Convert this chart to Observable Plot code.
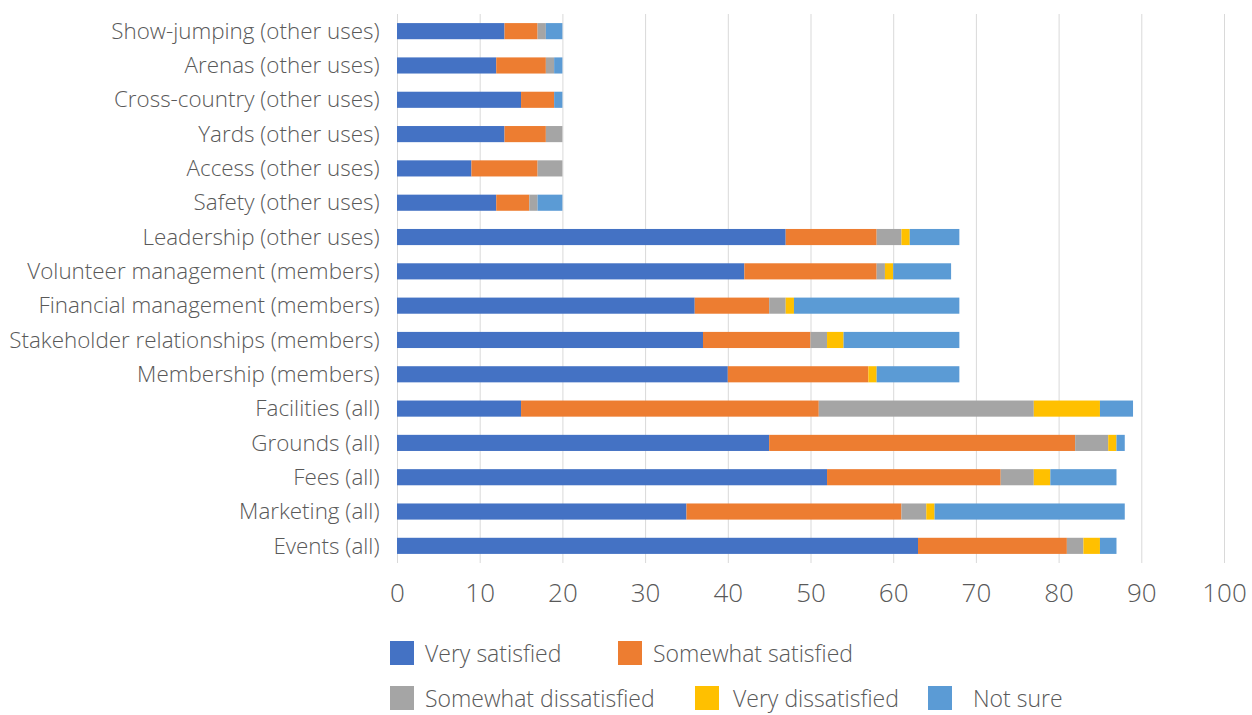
<!DOCTYPE html>
<html>
<head>
<meta charset="utf-8">
<script src="https://cdn.jsdelivr.net/npm/d3@7"></script>
<script src="https://cdn.jsdelivr.net/npm/@observablehq/plot@0.6"></script>
<style>
  html, body { margin: 0; padding: 0; background: #fff; }
  #wrap { position: relative; width: 1252px; height: 715px; font-family: "Open Sans", Lato, sans-serif; font-weight: 300; color: #595959; }
  #legend { position: absolute; left: 0; top: 620px; width: 1252px; height: 95px; }
  .li { position: absolute; display: flex; align-items: center; font-size: 23px; line-height: 24px; height: 24px; white-space: nowrap; }
  .sw { width: 24px; height: 24px; display: inline-block; }
</style>
</head>
<body>
<div id="wrap">
  <div id="chart"></div>
  <div id="legend"></div>
</div>
<script>
const categories = [
  "Show-jumping (other uses)",
  "Arenas (other uses)",
  "Cross-country (other uses)",
  "Yards (other uses)",
  "Access (other uses)",
  "Safety (other uses)",
  "Leadership (other uses)",
  "Volunteer management (members)",
  "Financial management (members)",
  "Stakeholder relationships (members)",
  "Membership (members)",
  "Facilities (all)",
  "Grounds (all)",
  "Fees (all)",
  "Marketing (all)",
  "Events (all)"
];
const seriesNames = ["Very satisfied", "Somewhat satisfied", "Somewhat dissatisfied", "Very dissatisfied", "Not sure"];
const verySatisfied         = [13, 12, 15, 13,  9, 12, 47, 42, 36, 37, 40, 15, 45, 52, 35, 63];
const somewhatSatisfied     = [ 4,  6,  4,  5,  8,  4, 11, 16,  9, 13, 17, 36, 37, 21, 26, 18];
const somewhatDissatisfied  = [ 1,  1,  0,  2,  3,  1,  3,  1,  2,  2,  0, 26,  4,  4,  3,  2];
const veryDissatisfied      = [ 0,  0,  0,  0,  0,  0,  1,  1,  1,  2,  1,  8,  1,  2,  1,  2];
const notSure               = [ 2,  1,  1,  0,  0,  3,  6,  7, 20, 14, 10,  4,  1,  8, 23,  2];
const xTicks = [0, 10, 20, 30, 40, 50, 60, 70, 80, 90, 100];
const colors = ["#4472C4", "#ED7D31", "#A5A5A5", "#FFC000", "#5B9BD5"];

const seriesValues = [verySatisfied, somewhatSatisfied, somewhatDissatisfied, veryDissatisfied, notSure];
const data = [];
categories.forEach((c, i) => {
  seriesNames.forEach((s, j) => {
    data.push({category: c, series: s, value: seriesValues[j][i]});
  });
});

const chart = Plot.plot({
  width: 1252,
  height: 620,
  marginLeft: 397,
  marginRight: 28,
  marginTop: 14,
  marginBottom: 57,
  style: {fontFamily: "'Open Sans', Lato, sans-serif", fontWeight: 300, color: "#595959", background: "#fff"},
  x: {domain: [0, 100], ticks: xTicks, label: null},
  y: {domain: categories, label: null, paddingInner: 0.53, paddingOuter: 0.265, round: false},
  color: {domain: seriesNames, range: colors},
  marks: [
    Plot.gridX(xTicks, {stroke: "#d9d9d9", strokeOpacity: 1, strokeWidth: 1}),
    Plot.axisX({ticks: xTicks, tickSize: 0, tickPadding: 20, fontSize: 26, label: null, fill: "#595959"}),
    Plot.axisY({tickSize: 0, tickPadding: 18, fontSize: 22.4, label: null, fill: "#595959"}),
    Plot.barX(data, Plot.stackX({x: "value", y: "category", fill: "series", order: null}))
  ]
});
document.getElementById("chart").appendChild(chart);

// legend
const legendPos = [
  {x: 390, y: 33}, {x: 618, y: 33},
  {x: 390, y: 78}, {x: 695, y: 78}, {x: 928, y: 78}
];
const textGap = [11, 11, 11, 14, 21];
const legend = document.getElementById("legend");
seriesNames.forEach((s, i) => {
  const item = document.createElement("div");
  item.className = "li";
  item.style.left = legendPos[i].x + "px";
  item.style.top = (legendPos[i].y - 12) + "px";
  const sw = document.createElement("span");
  sw.className = "sw";
  sw.style.background = colors[i];
  sw.style.marginRight = textGap[i] + "px";
  item.appendChild(sw);
  item.appendChild(document.createTextNode(s));
  legend.appendChild(item);
});
</script>
</body>
</html>
